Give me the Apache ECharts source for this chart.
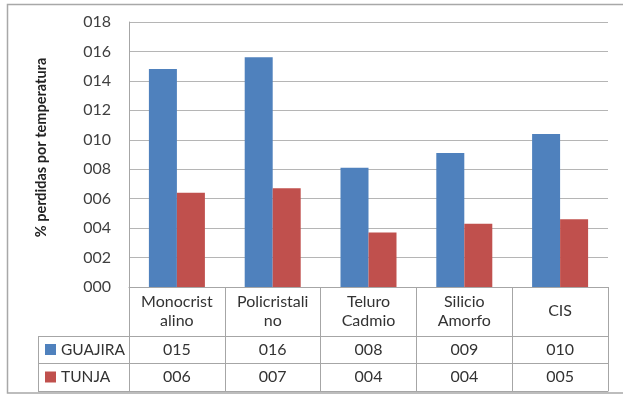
<!DOCTYPE html>
<html>
<head>
<meta charset="utf-8">
<script src="https://cdn.jsdelivr.net/npm/echarts@6/dist/echarts.min.js"></script>
<style>
html,body{margin:0;padding:0;background:#fff;}
#chart{width:623px;height:399px;}
</style>
</head>
<body>
<div id="chart"></div>
<script>
const categories = ['Monocrist\nalino', 'Policristali\nno', 'Teluro\nCadmio', 'Silicio\nAmorfo', 'CIS'];
const seriesNames = ['GUAJIRA', 'TUNJA'];
const guajira = [14.8, 15.6, 8.1, 9.1, 10.4];
const tunja = [6.4, 6.7, 3.7, 4.3, 4.6];
const yTickLabels = ['000', '002', '004', '006', '008', '010', '012', '014', '016', '018'];
const yTitle = '% perdidas por temperatura';

const pad3 = v => String(Math.round(v)).padStart(3, '0');
const FONT = 'Lato, "Open Sans", sans-serif';
const TXT = '#333';
const LINE = '#a6a6a6';

const chart = echarts.init(document.getElementById('chart'));
chart.setOption({
  animation: false,
  textStyle: { fontFamily: FONT },
  grid: { left: 129, right: 15, top: 22, bottom: 112 },
  legend: {
    data: seriesNames,
    orient: 'vertical',
    left: 45, top: 341,
    itemWidth: 11, itemHeight: 11, itemGap: 10.5, itemTextGap: 3,
    icon: 'rect', padding: 0,
    textStyle: { fontSize: 15.5, color: TXT, lineHeight: 17, fontFamily: FONT }
  },
  xAxis: [
    {
      type: 'category', data: categories, position: 'bottom',
      axisLine: { show: true, lineStyle: { color: LINE } },
      axisTick: { show: true, interval: 0, length: 104, lineStyle: { color: LINE } },
      axisLabel: { interval: 0, margin: 24, verticalAlign: 'middle', fontSize: 16, lineHeight: 19, color: TXT, fontFamily: FONT }
    },
    {
      type: 'category', data: guajira.map(pad3), position: 'bottom', offset: 49,
      axisLine: { show: true, lineStyle: { color: LINE } },
      axisTick: { show: false },
      axisLabel: { interval: 0, margin: 13.5, verticalAlign: 'middle', fontSize: 16, color: TXT, fontFamily: FONT }
    },
    {
      type: 'category', data: tunja.map(pad3), position: 'bottom', offset: 76,
      axisLine: { show: true, lineStyle: { color: LINE } },
      axisTick: { show: false },
      axisLabel: { interval: 0, margin: 14, verticalAlign: 'middle', fontSize: 16, color: TXT, fontFamily: FONT }
    },
    {
      type: 'category', data: categories, position: 'bottom', offset: 104,
      axisLine: { show: true, lineStyle: { color: LINE } },
      axisTick: { show: false },
      axisLabel: { show: false }
    }
  ],
  yAxis: {
    type: 'value', min: 0, max: 18, interval: 2,
    name: yTitle, nameLocation: 'middle', nameGap: 80, nameRotate: 90,
    nameTextStyle: { fontSize: 14.5, fontWeight: 'bold', color: '#222', fontFamily: FONT, padding: [0, 0, 0, 14] },
    axisLine: { show: true, lineStyle: { color: LINE } },
    axisTick: { show: false },
    axisLabel: { margin: 18, fontSize: 16, color: '#404040', fontFamily: FONT,
      formatter: v => yTickLabels[Math.round(v / 2)] },
    splitLine: { lineStyle: { color: '#b5b5b5', width: 1.2 } }
  },
  series: [
    { name: seriesNames[0], type: 'bar', data: guajira, barWidth: 28, barGap: '0%', itemStyle: { color: '#4F81BD' } },
    { name: seriesNames[1], type: 'bar', data: tunja, barWidth: 28, barGap: '0%', itemStyle: { color: '#C0504D' } }
  ],
  graphic: [
    { type: 'rect', shape: { x: 7.5, y: 4.5, width: 640, height: 388.5 }, style: { fill: null, stroke: '#a8a8a8', lineWidth: 1.5 }, silent: true },
    { type: 'line', shape: { x1: 38.5, y1: 336, x2: 38.5, y2: 391 }, style: { stroke: LINE, lineWidth: 1 } },
    { type: 'line', shape: { x1: 38, y1: 336.5, x2: 129, y2: 336.5 }, style: { stroke: LINE, lineWidth: 1 } },
    { type: 'line', shape: { x1: 38, y1: 363.5, x2: 129, y2: 363.5 }, style: { stroke: LINE, lineWidth: 1 } },
    { type: 'line', shape: { x1: 38, y1: 391.5, x2: 129, y2: 391.5 }, style: { stroke: LINE, lineWidth: 1 } }
  ]
});
</script>
</body>
</html>
